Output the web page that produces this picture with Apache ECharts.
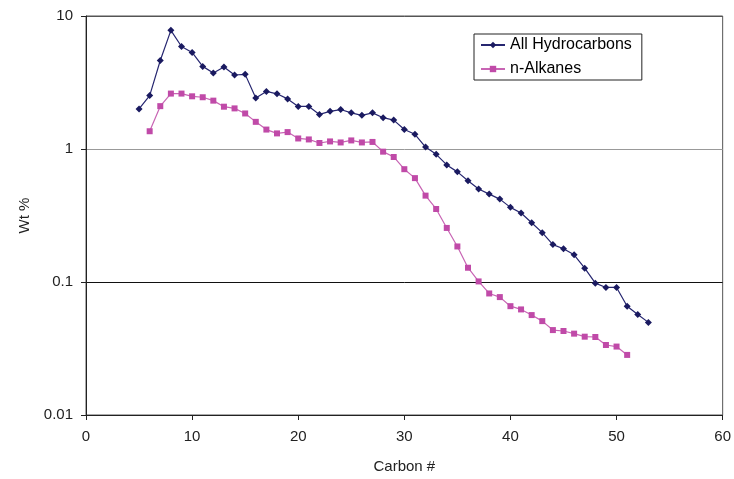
<!DOCTYPE html>
<html><head><meta charset="utf-8">
<script src="https://cdn.jsdelivr.net/npm/echarts@6/dist/echarts.min.js"></script>
<style>html,body{margin:0;padding:0;background:#fff}#c{width:734px;height:479px}</style>
</head><body><div id="c"></div>
<script>
var hcCarbons = [5,6,7,8,9,10,11,12,13,14,15,16,17,18,19,20,21,22,23,24,25,26,27,28,29,30,31,32,33,34,35,36,37,38,39,40,41,42,43,44,45,46,47,48,49,50,51,52,53];
var hcValues = [2.0,2.52,4.63,7.8,5.9,5.32,4.18,3.73,4.13,3.6,3.64,2.42,2.71,2.6,2.38,2.09,2.09,1.82,1.92,1.98,1.87,1.79,1.87,1.72,1.65,1.40,1.29,1.035,0.912,0.759,0.673,0.577,0.50,0.458,0.42,0.364,0.33,0.279,0.235,0.191,0.178,0.160,0.127,0.098,0.091,0.091,0.0658,0.057,0.0497];
var alkCarbons = [6,7,8,9,10,11,12,13,14,15,16,17,18,19,20,21,22,23,24,25,26,27,28,29,30,31,32,33,34,35,36,37,38,39,40,41,42,43,44,45,46,47,48,49,50,51];
var alkValues = [1.36,2.1,2.61,2.61,2.49,2.45,2.31,2.08,2.02,1.85,1.60,1.40,1.31,1.34,1.20,1.18,1.11,1.14,1.12,1.16,1.12,1.13,0.955,0.871,0.705,0.604,0.446,0.354,0.255,0.185,0.128,0.101,0.082,0.077,0.0658,0.0622,0.0564,0.0508,0.0435,0.0428,0.0409,0.0388,0.0386,0.0336,0.0327,0.0283];
var seriesNames = ['All Hydrocarbons','n-Alkanes'];
var yTicks = [0.01,0.1,1,10];

function pairs(xs, ys){ return xs.map(function(x,i){ return [x, ys[i]]; }); }

var chart = echarts.init(document.getElementById('c'), null, {renderer:'canvas'});
var font = 'Liberation Sans, Arial, sans-serif';
chart.setOption({
  animation:false,
  backgroundColor:'#fff',
  grid:{left:86,right:11,top:16,bottom:62,show:true,borderColor:'#555',borderWidth:1},
  legend:{
    orient:'vertical', left:474, top:34, width:171,
    borderColor:'#222', borderWidth:1, padding:[3,10,3,6],
    itemWidth:24, itemHeight:8, itemGap:8,
    textStyle:{fontFamily:font,fontSize:16,color:'#000'},
    data:seriesNames
  },
  xAxis:{
    type:'value', min:0, max:60, interval:10,
    name:'Carbon #', nameLocation:'middle', nameGap:44,
    nameTextStyle:{fontFamily:font,fontSize:15,color:'#222'},
    axisLine:{lineStyle:{color:'#222',width:1}},
    axisTick:{show:true,inside:false,length:5,lineStyle:{color:'#222'}},
    axisLabel:{fontFamily:font,fontSize:15,color:'#222',margin:14},
    splitLine:{show:false}
  },
  yAxis:{
    type:'log', logBase:10, min:0.01, max:10,
    name:'Wt %', nameLocation:'middle', nameGap:54,
    nameTextStyle:{fontFamily:font,fontSize:15,color:'#222'},
    axisLine:{show:true,lineStyle:{color:'#222',width:1}},
    axisTick:{show:true,inside:false,length:5,lineStyle:{color:'#222'}},
    axisLabel:{fontFamily:font,fontSize:15,color:'#222',margin:13,
      formatter:function(v){ return String(yTicks.reduce(function(a,b){return Math.abs(Math.log10(b)-Math.log10(v))<Math.abs(Math.log10(a)-Math.log10(v))?b:a;})); }},
    splitLine:{show:true,lineStyle:{color:['#555','#111','#999','#555'],width:1}},
    minorTick:{show:false}
  },
  series:[
    {name:seriesNames[0],type:'line',data:pairs(hcCarbons,hcValues),
     symbol:'diamond',symbolSize:7,
     itemStyle:{color:'#1a1a60'},lineStyle:{color:'#262670',width:1.2}},
    {name:seriesNames[1],type:'line',data:pairs(alkCarbons,alkValues),
     symbol:'rect',symbolSize:6,
     itemStyle:{color:'#c04aa8'},lineStyle:{color:'#c865b4',width:1.2}}
  ]
});
</script></body></html>
